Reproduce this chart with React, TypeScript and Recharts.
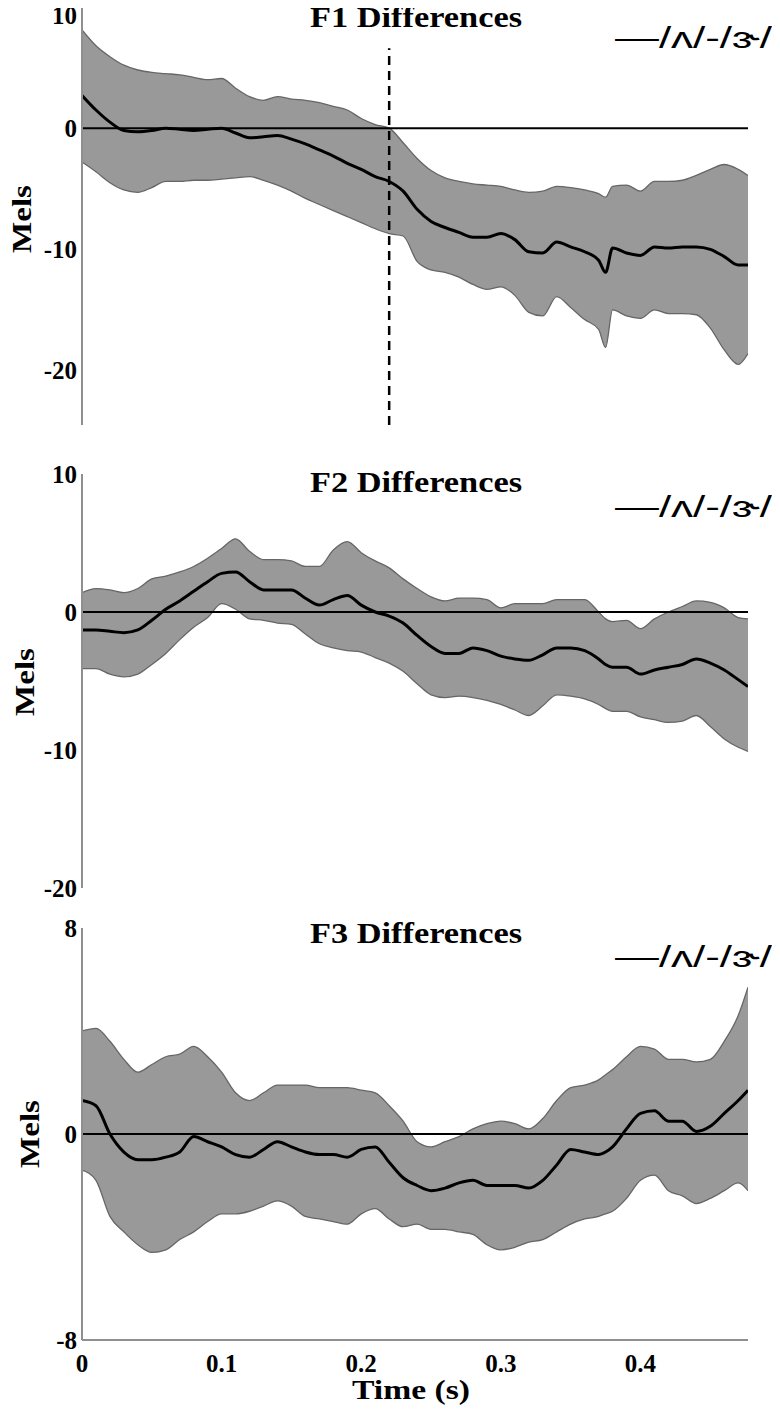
import React from 'react';
import { ComposedChart, Area, Line, XAxis, YAxis, ReferenceLine, Customized } from 'recharts';

const TIME = [0, 0.01, 0.02, 0.03, 0.04, 0.05, 0.06, 0.07, 0.08, 0.09, 0.1, 0.11, 0.12, 0.13, 0.14, 0.15, 0.16, 0.17, 0.18, 0.19, 0.2, 0.21, 0.22, 0.23, 0.24, 0.25, 0.26, 0.27, 0.28, 0.29, 0.3, 0.31, 0.32, 0.33, 0.34, 0.35, 0.36, 0.37, 0.375, 0.38, 0.39, 0.4, 0.41, 0.42, 0.43, 0.44, 0.45, 0.46, 0.47, 0.477];

const F1_HIGH = [8.1, 6.8, 5.9, 5.2, 4.8, 4.6, 4.5, 4.4, 4.2, 4.0, 4.1, 3.3, 2.6, 2.3, 2.6, 2.4, 2.3, 2.1, 1.8, 1.5, 0.8, 0.3, 0.0, -1.2, -2.5, -3.5, -4.1, -4.4, -4.6, -4.7, -4.8, -5.1, -5.3, -5.2, -4.8, -4.9, -5.1, -5.4, -5.7, -4.8, -4.7, -5.2, -4.4, -4.4, -4.3, -3.9, -3.4, -3.0, -3.4, -3.9];
const F1_MEAN = [2.7, 1.5, 0.5, -0.2, -0.3, -0.2, 0.0, -0.1, -0.2, -0.1, 0.0, -0.4, -0.8, -0.7, -0.6, -0.9, -1.3, -1.8, -2.3, -2.9, -3.4, -4.0, -4.4, -5.2, -6.7, -7.7, -8.2, -8.6, -9.0, -9.0, -8.7, -9.2, -10.2, -10.3, -9.4, -9.8, -10.2, -10.9, -11.9, -9.9, -10.3, -10.5, -9.8, -9.9, -9.8, -9.8, -10.0, -10.6, -11.3, -11.3];
const F1_LOW = [-2.8, -3.6, -4.5, -5.1, -5.3, -4.9, -4.4, -4.4, -4.3, -4.3, -4.2, -4.1, -4.0, -4.3, -4.7, -5.2, -5.8, -6.3, -6.8, -7.3, -7.8, -8.3, -8.7, -8.9, -11.0, -11.7, -11.9, -12.3, -12.9, -13.3, -13.1, -13.8, -15.2, -15.5, -13.9, -14.8, -15.8, -16.6, -18.1, -15.0, -15.5, -15.7, -15.0, -15.3, -15.3, -15.4, -16.5, -18.3, -19.5, -18.6];

const F2_HIGH = [1.4, 1.7, 1.6, 1.4, 1.7, 2.4, 2.6, 2.9, 3.3, 3.9, 4.6, 5.3, 4.4, 3.8, 3.8, 3.7, 3.3, 3.3, 4.5, 5.1, 4.3, 3.7, 3.2, 2.4, 1.7, 1.1, 0.8, 1.0, 1.0, 0.9, 0.3, 0.6, 0.6, 0.6, 0.9, 0.9, 0.9, 0.0, -0.5, -0.7, -0.6, -1.2, -0.5, 0.0, 0.4, 0.8, 0.7, 0.3, -0.4, -0.5];
const F2_MEAN = [-1.3, -1.3, -1.4, -1.5, -1.3, -0.6, 0.2, 0.8, 1.5, 2.2, 2.8, 2.9, 2.2, 1.6, 1.6, 1.6, 1.0, 0.5, 0.9, 1.2, 0.5, 0.0, -0.3, -0.8, -1.7, -2.5, -3.0, -3.0, -2.6, -2.8, -3.2, -3.4, -3.5, -3.1, -2.6, -2.6, -2.8, -3.4, -3.8, -4.0, -4.0, -4.5, -4.2, -4.0, -3.8, -3.4, -3.7, -4.2, -4.9, -5.4];
const F2_LOW = [-4.1, -4.1, -4.5, -4.7, -4.5, -3.8, -3.0, -2.0, -1.1, -0.4, 0.6, 0.2, -0.5, -0.6, -0.8, -0.9, -1.6, -2.3, -2.6, -2.8, -2.9, -3.3, -3.7, -4.3, -5.2, -6.0, -6.2, -6.1, -6.2, -6.4, -6.7, -7.1, -7.5, -6.8, -6.0, -6.1, -6.3, -6.7, -7.0, -7.2, -7.2, -7.6, -7.8, -8.0, -7.9, -7.5, -8.3, -9.2, -9.8, -10.1];

const F3_HIGH = [4.0, 4.1, 3.6, 2.9, 2.4, 2.7, 3.0, 3.1, 3.4, 3.0, 2.4, 1.6, 1.3, 1.6, 1.9, 1.9, 1.9, 1.8, 1.8, 1.8, 1.7, 1.6, 1.1, 0.5, -0.3, -0.5, -0.3, -0.1, 0.2, 0.4, 0.5, 0.4, 0.2, 0.6, 1.3, 1.8, 1.9, 2.1, 2.3, 2.5, 3.0, 3.4, 3.3, 2.9, 2.9, 2.8, 2.9, 3.6, 4.6, 5.7];
const F3_MEAN = [1.3, 1.1, 0.0, -0.7, -1.0, -1.0, -0.9, -0.7, -0.1, -0.3, -0.5, -0.8, -0.9, -0.6, -0.3, -0.5, -0.7, -0.8, -0.8, -0.9, -0.6, -0.5, -1.1, -1.7, -2.0, -2.2, -2.1, -1.9, -1.8, -2.0, -2.0, -2.0, -2.1, -1.8, -1.2, -0.6, -0.7, -0.8, -0.7, -0.5, 0.2, 0.8, 0.9, 0.5, 0.5, 0.1, 0.3, 0.8, 1.3, 1.7];
const F3_LOW = [-1.4, -1.8, -3.2, -3.8, -4.3, -4.6, -4.5, -4.1, -3.8, -3.4, -3.1, -3.1, -3.0, -2.8, -2.6, -2.8, -3.2, -3.3, -3.4, -3.5, -3.1, -2.9, -3.3, -3.6, -3.5, -3.7, -3.7, -3.8, -3.9, -4.3, -4.5, -4.4, -4.2, -4.1, -3.8, -3.5, -3.3, -3.2, -3.1, -3.0, -2.5, -1.8, -1.6, -2.2, -2.4, -2.7, -2.5, -2.2, -1.9, -2.2];

const X_TICKS = [0, 0.1, 0.2, 0.3, 0.4];
const X_TICK_LABELS = ['0', '0.1', '0.2', '0.3', '0.4'];
const F1_TICKS = [10, 0, -10, -20];
const F2_TICKS = [10, 0, -10, -20];
const F3_TICKS = [8, 0, -8];
const TITLES = ['F1 Differences', 'F2 Differences', 'F3 Differences'];
const LEGEND_TEXT = '\u2014/\u028C/-/\u025D/';
const Y_LABEL = 'Mels';
const X_LABEL = 'Time (s)';
const ONSET_TIME = 0.22;

const SERIF = '"Liberation Serif", "Times New Roman", serif';
const SANS = '"Liberation Sans", Arial, "DejaVu Sans", sans-serif';
const AXIS_GRAY = '#8f8f8f';
const BAND_FILL = '#999999';
const BAND_STROKE = '#666666';

function buildRows(high: number[], mean: number[], low: number[]) {
  return TIME.map((t, i) => ({ t, mean: mean[i], band: [low[i], high[i]] }));
}

type PanelProps = {
  top: number;
  height: number;
  marginTop: number;
  marginBottom: number;
  domain: [number, number];
  ticks: number[];
  rows: any[];
  title: string;
  titleY: number;
  legendY: number;
  melsX: number;
  melsY: number;
  showXTicks?: boolean;
  onset?: boolean;
  onsetTop?: number;
};

const tickStyle = { fontFamily: SERIF, fontWeight: 700, fontSize: 25, fill: '#000' };

function YTick(props: any) {
  const { x, y, payload } = props;
  return (
    <text x={x} y={Math.max(y, 15)} dy="0.35em" textAnchor="end" style={tickStyle}>
      {payload.value}
    </text>
  );
}

function Panel(p: PanelProps) {
  return (
    <div style={{ position: 'absolute', left: 0, top: p.top, width: 780, height: p.height }}>
      <ComposedChart
        width={780}
        height={p.height}
        data={p.rows}
        margin={{ top: p.marginTop, right: 32, bottom: p.marginBottom, left: 10 }}
        style={{ overflow: 'visible' }}
      >
        <XAxis
          dataKey="t"
          type="number"
          domain={[0, 0.477]}
          allowDataOverflow
          ticks={X_TICKS}
          tickFormatter={(v: number) => X_TICK_LABELS[X_TICKS.indexOf(v)] ?? String(v)}
          tick={p.showXTicks ? tickStyle : false}
          tickLine={false}
          tickSize={0}
          tickMargin={14}
          height={p.showXTicks ? 60 : 0}
          axisLine={{ stroke: AXIS_GRAY, strokeWidth: 2 }}
        />
        <YAxis
          type="number"
          domain={p.domain}
          allowDataOverflow
          ticks={p.ticks}
          interval={0}
          tick={<YTick />}
          tickLine={false}
          tickSize={0}
          tickMargin={5}
          width={72}
          axisLine={{ stroke: AXIS_GRAY, strokeWidth: 2 }}
        />
        <Area
          dataKey="band"
          type="monotone"
          fill={BAND_FILL}
          fillOpacity={1}
          stroke={BAND_STROKE}
          strokeWidth={1.3}
          isAnimationActive={false}
          dot={false}
          activeDot={false}
        />
        <ReferenceLine y={0} stroke="#000" strokeWidth={2} />
        {p.onset ? (
          <ReferenceLine
            segment={[{ x: ONSET_TIME, y: p.domain[0] }, { x: ONSET_TIME, y: p.onsetTop as number }]}
            stroke="#000"
            strokeWidth={2.5}
            strokeDasharray="9 6"
          />
        ) : null}
        <Line
          dataKey="mean"
          type="monotone"
          stroke="#000"
          strokeWidth={3}
          dot={false}
          activeDot={false}
          isAnimationActive={false}
        />
        <Customized
          component={() => (
            <g>
              <text x={310} y={p.titleY} textLength={212} lengthAdjust="spacingAndGlyphs"
                style={{ fontFamily: SERIF, fontWeight: 700, fontSize: 30 }} fill="#000">{p.title}</text>
              <text x={615} y={p.legendY} textLength={157} lengthAdjust="spacingAndGlyphs"
                style={{ fontFamily: SANS, fontSize: 29 }} fill="#000">{LEGEND_TEXT}</text>
              <text x={p.melsX} y={p.melsY} textAnchor="middle" textLength={68} lengthAdjust="spacingAndGlyphs"
                transform={`rotate(-90 ${p.melsX} ${p.melsY})`}
                style={{ fontFamily: SERIF, fontWeight: 700, fontSize: 28 }} fill="#000">{Y_LABEL}</text>
              {p.showXTicks ? (
                <text x={411} y={499} textAnchor="middle" textLength={118} lengthAdjust="spacingAndGlyphs"
                  style={{ fontFamily: SERIF, fontWeight: 700, fontSize: 28 }} fill="#000">{X_LABEL}</text>
              ) : null}
            </g>
          )}
        />
      </ComposedChart>
    </div>
  );
}

export default function App() {
  const rows1 = buildRows(F1_HIGH, F1_MEAN, F1_LOW);
  const rows2 = buildRows(F2_HIGH, F2_MEAN, F2_LOW);
  const rows3 = buildRows(F3_HIGH, F3_MEAN, F3_LOW);
  return (
    <div style={{ position: 'relative', width: 780, height: 1413, margin: '-8px 0 0 -8px', background: '#fff', overflow: 'hidden' }}>
      <Panel top={0} height={440} marginTop={7} marginBottom={15} domain={[-24.5, 10]} ticks={F1_TICKS}
        rows={rows1} title={TITLES[0]} titleY={27} legendY={48} melsX={31} melsY={219} onset onsetTop={6.6} />
      <Panel top={450} height={465} marginTop={24} marginBottom={27} domain={[-20, 10]} ticks={F2_TICKS}
        rows={rows2} title={TITLES[1]} titleY={42} legendY={67} melsX={34} melsY={232} />
      <Panel top={900} height={513} marginTop={28} marginBottom={13} domain={[-8, 8]} ticks={F3_TICKS}
        rows={rows3} title={TITLES[2]} titleY={43} legendY={67} melsX={39} melsY={234} showXTicks />
    </div>
  );
}
